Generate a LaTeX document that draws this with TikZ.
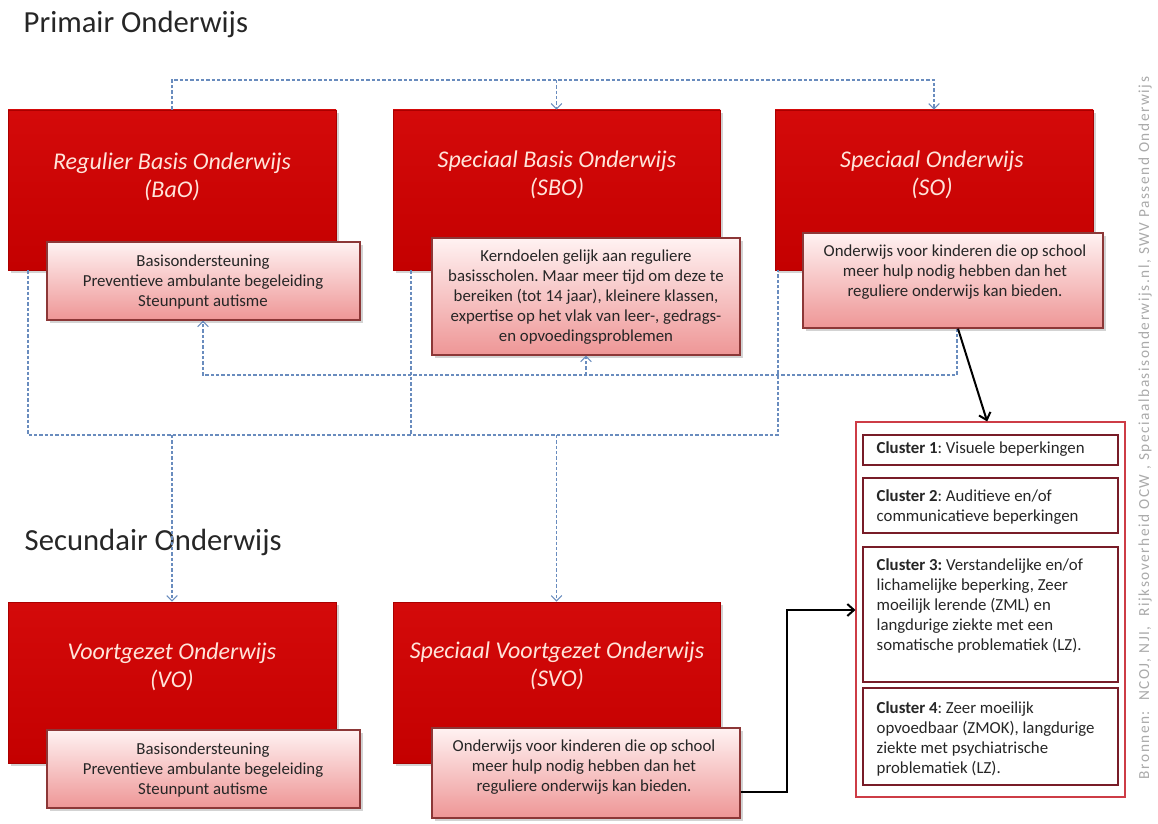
\documentclass[tikz,border=0pt]{standalone}
\usepackage{fontspec}
\setmainfont{Carlito}
\usetikzlibrary{arrows.meta,shadows,calc}
\definecolor{rbTop}{RGB}{212,10,10}
\definecolor{rbBot}{RGB}{196,0,0}
\definecolor{rbDraw}{RGB}{170,0,0}
\definecolor{rtext}{RGB}{255,228,218}
\definecolor{pkTop}{RGB}{255,242,242}
\definecolor{pkBot}{RGB}{238,150,150}
\definecolor{pkDraw}{RGB}{140,55,55}
\definecolor{clDraw}{RGB}{120,28,40}
\definecolor{clOuter}{RGB}{205,60,70}
\definecolor{dlc}{RGB}{105,140,190}
\definecolor{srcgray}{RGB}{170,170,170}
\frenchspacing
\begin{document}
\begin{tikzpicture}[x=0.75pt,y=-0.75pt,
  redbox/.style={rectangle,draw=rbDraw,line width=0.5pt,top color=rbTop,bottom color=rbBot,
    drop shadow={shadow xshift=2pt,shadow yshift=-2pt,opacity=0.35},inner sep=0pt},
  redtext/.style={text=rtext,font=\fontsize{18}{21}\selectfont\itshape,align=center},
  pinkbox/.style={rectangle,draw=pkDraw,line width=1pt,top color=pkTop,bottom color=pkBot,
    drop shadow={shadow xshift=2pt,shadow yshift=-2pt,opacity=0.35},inner sep=0pt},
  pinktext/.style={font=\fontsize{12.6}{15}\selectfont,align=center,text=black!85},
  clbox/.style={rectangle,draw=clDraw,line width=2.2pt,fill=white,
    drop shadow={shadow xshift=1pt,shadow yshift=-1pt,opacity=0.3},inner sep=0pt},
  cltext/.style={font=\fontsize{12.6}{15}\selectfont,align=left,anchor=west,text=black!85},
  dl/.style={draw=dlc,line width=0.8pt,dash pattern=on 2.5pt off 1.5pt},
  dla/.style={dl,-{Straight Barb[length=4pt,width=8pt]}},
  sl/.style={draw=black,line width=1.5pt,-{Straight Barb[length=5pt,width=9pt]}},
  title/.style={font=\fontsize{23}{27}\selectfont,anchor=base west,text=black!85}
]
\useasboundingbox (0,0) rectangle (1158,824);

% titles
\node[title] (tprim) at (19,33) {Primair Onderwijs};
\node[title] (tsec) at (20,550) {Secundair Onderwijs};

% coordinates for connectors
\coordinate (ytop) at (0,80);
\coordinate (c1) at (957,375);
\coordinate (c2) at (203,375);
\coordinate (d1) at (28,435);
\coordinate (d2) at (411,435);
\coordinate (d3) at (778,435);
\coordinate (e1) at (787,610);

% red boxes
\node[redbox,minimum width=246pt,minimum height=120pt] (bao) at (172,190) {};
\node[redbox,minimum width=245.25pt,minimum height=120pt] (sbo) at (556.5,190) {};
\node[redbox,minimum width=238.5pt,minimum height=120pt] (so) at (934,190) {};
\node[redbox,minimum width=246pt,minimum height=120.75pt] (vo) at (172,682.5) {};
\node[redbox,minimum width=245.25pt,minimum height=120.75pt] (svo) at (556.5,682.5) {};

\node[redtext] (baot) at (172,177) {Regulier Basis Onderwijs\\(BaO)};
\node[redtext] (sbot) at (557,175) {Speciaal Basis Onderwijs\\(SBO)};
\node[redtext] (sot) at (932,175) {Speciaal Onderwijs\\(SO)};
\node[redtext] (vot) at (172,667) {Voortgezet Onderwijs\\(VO)};
\node[redtext] (svot) at (557,666) {Speciaal Voortgezet Onderwijs\\(SVO)};

% dashed connectors
\draw[dla] (bao.north) -- (bao.north |- ytop) -| (so.north);
\draw[dla] (sbo.north |- ytop) -- (sbo.north);

% pink boxes
\node[pinkbox,minimum width=234.75pt,minimum height=58.5pt] (baosub) at (203.5,281) {};
\node[pinkbox,minimum width=231pt,minimum height=87.75pt] (sbosub) at (586,296.5) {};
\node[pinkbox,minimum width=225pt,minimum height=71.25pt] (sosub) at (953,280.5) {};
\node[pinkbox,minimum width=234.75pt,minimum height=58.5pt] (vosub) at (203.5,769) {};
\node[pinkbox,minimum width=231pt,minimum height=67.5pt] (svosub) at (586,773) {};

\node[pinktext] (baosubt) at (203,282) {Basisondersteuning\\Preventieve\ ambulante begeleiding\\Steunpunt\ autisme};
\node[pinktext] (sbosubt) at (586,297) {Kerndoelen gelijk aan reguliere\\basisscholen. Maar meer tijd om deze te\\bereiken (tot 14 jaar), kleinere klassen,\\expertise op het vlak van leer-, gedrags-\\en opvoedingsproblemen};
\node[pinktext] (sosubt) at (955,272) {Onderwijs voor kinderen die op school\\meer\ hulp nodig hebben\ dan het\\reguliere onderwijs kan bieden.};
\node[pinktext] (vosubt) at (203,770) {Basisondersteuning\\Preventieve\ ambulante begeleiding\\Steunpunt\ autisme};
\node[pinktext] (svosubt) at (584,767) {Onderwijs voor kinderen die op school\\meer\ hulp nodig hebben\ dan het\\reguliere onderwijs kan bieden.};

% dashed connectors (middle)
\draw[dla] (sosub.south -| c1) -- (c1) -- (c2) -- (baosub.south -| c2);
\draw[dla] (sbosub.south |- c1) -- (sbosub.south);
\draw[dl] (bao.south -| d1) -- (d1) -- (d3) -- (so.south -| d3);
\draw[dl] (sbo.south -| d2) -- (d2);
\draw[dla] (vo.north |- d1) -- (vo.north);
\draw[dla] (svo.north |- d1) -- (svo.north);

% cluster box
\node[rectangle,draw=clOuter,line width=0.8pt,minimum width=201.75pt,minimum height=281.25pt,inner sep=0pt] (cl) at (990.5,609.5) {};
\node[clbox,minimum width=191.25pt,minimum height=22.5pt] (cl1) at (990.5,450) {};
\node[clbox,minimum width=191.25pt,minimum height=41.25pt] (cl2) at (990.5,505.5) {};
\node[clbox,minimum width=191.25pt,minimum height=101.25pt] (cl3) at (990.5,614.5) {};
\node[clbox,minimum width=191.25pt,minimum height=72.75pt] (cl4) at (990.5,736.5) {};

\node[cltext] (cl1t) at (872,449) {\textbf{Cluster 1}: Visuele beperkingen};
\node[cltext] (cl2t) at (872,507) {\textbf{Cluster 2}: Auditieve en/of\\communicatieve beperkingen};
\node[cltext] (cl3t) at (872,606) {\textbf{Cluster 3:} Verstandelijke en/of\\lichamelijke beperking, Zeer\\moeilijk lerende (ZML) en\\langdurige ziekte met een\\somatische problematiek (LZ).};
\node[cltext] (cl4t) at (872,738.5) {\textbf{Cluster 4}: Zeer moeilijk\\opvoedbaar (ZMOK), langdurige\\ziekte met psychiatrische\\problematiek (LZ).};

% solid connectors
\draw[sl] ([xshift=3.75pt]sosub.south) -- ([xshift=-2.5pt]cl.north);
\draw[sl] ([yshift=-14.25pt]svosub.east) -| (e1) -- (e1 -| cl.west);

% sources
\node[rotate=90,text=srcgray,font=\fontsize{11.5}{13}\selectfont\addfontfeature{LetterSpace=10}] (src) at (1145,428)
  {Bronnen:\ \ NCOJ, NJI,\ \ Rijksoverheid OCW , Speciaalbasisonderwijs.nl, SWV Passend Onderwijs};
\end{tikzpicture}
\end{document}
